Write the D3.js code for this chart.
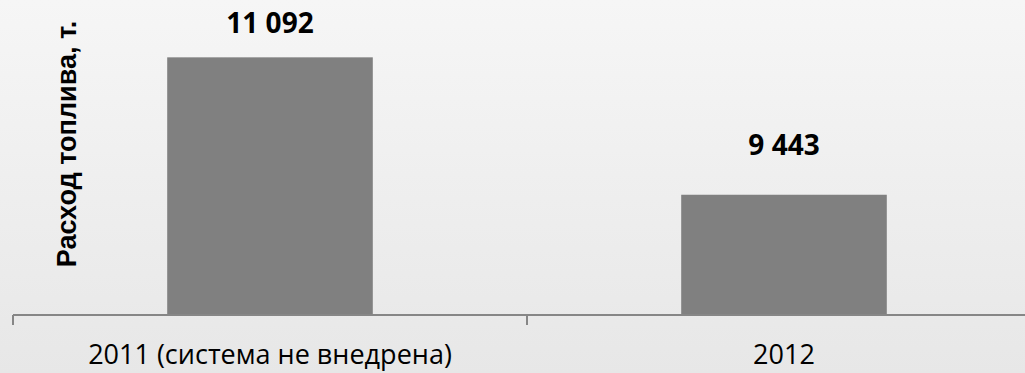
<!DOCTYPE html>
<html>
<head>
<meta charset="utf-8">
<script src="https://cdn.jsdelivr.net/npm/d3@7"></script>
<style>
  html, body { margin: 0; padding: 0; overflow: hidden; }
  body { width: 1025px; height: 373px; }
</style>
</head>
<body>
<div id="chart"></div>
<script>
var categories = ['2011 (система не внедрена)', '2012'];
var values = [11092, 9443];
var valueLabels = ['11 092', '9 443'];
var axisTitle = 'Расход топлива, т.';

var width = 1025, height = 373;
var baseY = 315;

var svg = d3.select('#chart')
  .append('svg')
  .attr('width', width)
  .attr('height', height);

// background gradient
var defs = svg.append('defs');
var grad = defs.append('linearGradient')
  .attr('id', 'bg')
  .attr('x1', 0).attr('y1', 0).attr('x2', 0).attr('y2', 1);
grad.append('stop').attr('offset', '0%').attr('stop-color', '#f6f6f6');
grad.append('stop').attr('offset', '100%').attr('stop-color', '#e7e7e7');

svg.append('rect')
  .attr('width', width)
  .attr('height', height)
  .attr('fill', 'url(#bg)');

var x = d3.scaleBand()
  .domain(categories)
  .range([13, 1041])
  .paddingInner(0.6)
  .paddingOuter(0.3);

var y = d3.scaleLinear()
  .domain([8000, 11500])
  .range([baseY, baseY - 3500 / 12]);

// bars
svg.selectAll('rect.bar')
  .data(values)
  .enter()
  .append('rect')
  .attr('class', 'bar')
  .attr('x', (d, i) => x(categories[i]))
  .attr('y', d => y(d))
  .attr('width', x.bandwidth())
  .attr('height', d => baseY - y(d))
  .attr('fill', '#808080');

// value labels (gap above bar differs a bit in the original)
var labelGap = [24, 40];
svg.selectAll('text.val')
  .data(values)
  .enter()
  .append('text')
  .attr('class', 'val')
  .attr('x', (d, i) => x(categories[i]) + x.bandwidth() / 2)
  .attr('y', (d, i) => y(d) - labelGap[i])
  .attr('text-anchor', 'middle')
  .style('font-family', '"Open Sans", sans-serif')
  .style('font-weight', 'bold')
  .style('font-size', '28px')
  .attr('fill', '#000')
  .text((d, i) => valueLabels[i]);

// x axis line with boundary ticks
var step = x.step();
var left = x(categories[0]) - x.paddingOuter() * step;
var axis = svg.append('g').attr('stroke', '#868686').attr('stroke-width', 2);
axis.append('line')
  .attr('x1', left).attr('x2', width)
  .attr('y1', baseY).attr('y2', baseY);
d3.range(categories.length).forEach(function(i) {
  var tx = left + i * step;
  axis.append('line')
    .attr('x1', tx).attr('x2', tx)
    .attr('y1', baseY).attr('y2', baseY + 10);
});

// category labels
svg.selectAll('text.cat')
  .data(categories)
  .enter()
  .append('text')
  .attr('class', 'cat')
  .attr('x', d => x(d) + x.bandwidth() / 2)
  .attr('y', 364)
  .attr('text-anchor', 'middle')
  .style('font-family', '"Open Sans", sans-serif')
  .style('font-size', '27px')
  .attr('fill', '#000')
  .text(d => d);

// y axis title
svg.append('text')
  .attr('transform', 'translate(76,144) rotate(-90)')
  .attr('text-anchor', 'middle')
  .style('font-family', '"Liberation Sans", Arial, sans-serif')
  .style('font-weight', 'bold')
  .style('font-size', '27px')
  .attr('fill', '#000')
  .text(axisTitle);
</script>
</body>
</html>
